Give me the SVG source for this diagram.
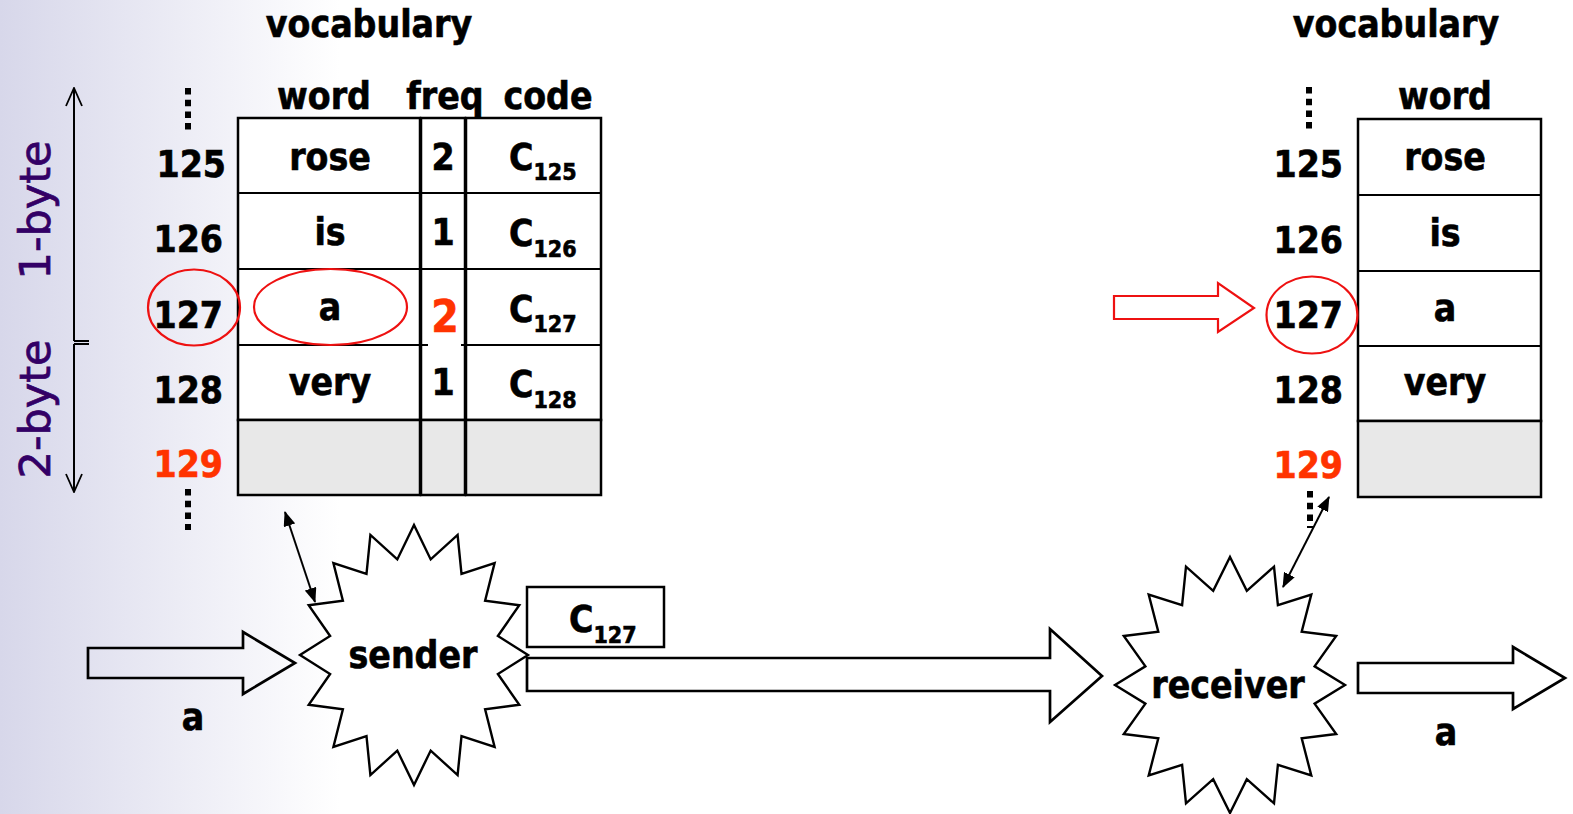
<svg xmlns="http://www.w3.org/2000/svg" width="1573" height="814" viewBox="0 0 1573 814">
<defs>
<linearGradient id="bg" x1="0" y1="0" x2="1" y2="0">
<stop offset="0" stop-color="#d7d7ea"/>
<stop offset="1" stop-color="#ffffff"/>
</linearGradient>
<marker id="ah" viewBox="0 0 15 12" refX="14" refY="6" markerWidth="15" markerHeight="12" markerUnits="userSpaceOnUse" orient="auto-start-reverse">
<path d="M0,0 L15,6 L0,12 z" fill="#000"/>
</marker>
<marker id="open" viewBox="0 0 20 18" refX="19" refY="9" markerWidth="20" markerHeight="18" markerUnits="userSpaceOnUse" orient="auto-start-reverse">
<path d="M1,1 L19,9 L1,17" fill="none" stroke="#000" stroke-width="1.8"/>
</marker>
</defs>
<style>
text{font-family:"DejaVu Sans Condensed","DejaVu Sans","Verdana",sans-serif;font-stretch:condensed;font-weight:bold;font-size:37px;fill:#000;stroke:#000;stroke-width:0.6}
.c{text-anchor:middle}
.e{text-anchor:end}
.red{fill:#ff3300;stroke:#ff3300}
.byte{font-family:"DejaVu Sans",sans-serif;font-stretch:normal;font-weight:normal;font-size:43px;fill:#330066;stroke:#330066;stroke-width:0.7;text-anchor:middle}
.sub{font-size:23px}
.cell{fill:#fff;stroke:#000;stroke-width:2.5}
.gray{fill:#e8e8e8;stroke:#000;stroke-width:2.5}
.dots{stroke:#000;stroke-width:6;stroke-dasharray:6.5 5.2;fill:none}
.ring{fill:none;stroke:#ee1111;stroke-width:2.2}
.blk{fill:#fff;stroke:#000;stroke-width:2.7;stroke-linejoin:miter}
.star{fill:#fff;stroke:#000;stroke-width:2.4;stroke-linejoin:miter}
.line{stroke:#000;stroke-width:2;fill:none}
</style>
<rect x="0" y="0" width="1573" height="814" fill="#fff"/>
<rect x="0" y="0" width="340" height="814" fill="url(#bg)"/>

<g id="byte-scale">
<line class="line" x1="74" y1="341" x2="74" y2="88" marker-end="url(#open)"/>
<line class="line" x1="74" y1="341" x2="89" y2="341"/>
<line class="line" x1="74" y1="344" x2="74" y2="492" marker-end="url(#open)"/>
<line class="line" x1="74" y1="344" x2="89" y2="344"/>
<text class="byte" transform="translate(50,210) rotate(-90)">1-byte</text>
<text class="byte" transform="translate(50,409) rotate(-90)">2-byte</text>
</g>

<g id="sender-vocabulary">
<text class="c" x="369" y="37">vocabulary</text>
<text class="c" x="324" y="109">word</text>
<text class="c" x="445" y="109">freq</text>
<text class="c" x="548" y="109">code</text>
<line class="dots" x1="188" y1="88" x2="188" y2="130"/>
<line class="dots" x1="188" y1="489" x2="188" y2="530"/>
<text class="e" x="226" y="177">125</text>
<text class="e" x="223" y="252">126</text>
<text class="e" x="223" y="328">127</text>
<text class="e" x="223" y="403">128</text>
<text class="e red" x="223" y="477">129</text>
<rect class="cell" x="238" y="118" width="182" height="302"/>
<rect class="cell" x="421" y="118" width="44" height="302"/>
<rect class="cell" x="466" y="118" width="135" height="302"/>
<line class="line" x1="238" y1="193" x2="601" y2="193" stroke-width="2.5"/>
<line class="line" x1="238" y1="269" x2="601" y2="269" stroke-width="2.5"/>
<line class="line" x1="238" y1="345" x2="601" y2="345" stroke-width="2.5"/>
<rect class="gray" x="238" y="420" width="182" height="75"/>
<rect class="gray" x="421" y="420" width="44" height="75"/>
<rect class="gray" x="466" y="420" width="135" height="75"/>
<rect x="428" y="290" width="33" height="57" fill="#fff"/>
<text class="c" x="330" y="170">rose</text>
<text class="c" x="330" y="245">is</text>
<text class="c" x="330" y="320">a</text>
<text class="c" x="330" y="395">very</text>
<text class="c" x="443" y="170">2</text>
<text class="c" x="443" y="245">1</text>
<text class="c red" x="445" y="332" style="font-size:44px">2</text>
<text class="c" x="443" y="395">1</text>
<text x="509" y="170">C<tspan class="sub" dy="10">125</tspan></text>
<text x="509" y="246">C<tspan class="sub" dy="11">126</tspan></text>
<text x="509" y="322">C<tspan class="sub" dy="10">127</tspan></text>
<text x="509" y="397">C<tspan class="sub" dy="11">128</tspan></text>
<ellipse class="ring" cx="194" cy="307.5" rx="46" ry="38"/>
<ellipse class="ring" cx="330.5" cy="307" rx="76.5" ry="38"/>
</g>

<g id="receiver-vocabulary">
<text class="c" x="1396" y="37">vocabulary</text>
<text class="c" x="1445" y="109">word</text>
<line class="dots" x1="1309" y1="87" x2="1309" y2="130"/>
<line class="dots" x1="1310" y1="491" x2="1310" y2="528"/>
<text class="e" x="1343" y="177">125</text>
<text class="e" x="1343" y="253">126</text>
<text class="e" x="1343" y="328">127</text>
<text class="e" x="1343" y="403">128</text>
<text class="e red" x="1343" y="478">129</text>
<rect class="cell" x="1358" y="119" width="183" height="302"/>
<line class="line" x1="1358" y1="195" x2="1541" y2="195" stroke-width="2.5"/>
<line class="line" x1="1358" y1="271" x2="1541" y2="271" stroke-width="2.5"/>
<line class="line" x1="1358" y1="346" x2="1541" y2="346" stroke-width="2.5"/>
<rect class="gray" x="1358" y="421" width="183" height="76"/>
<text class="c" x="1445" y="170">rose</text>
<text class="c" x="1445" y="246">is</text>
<text class="c" x="1445" y="321">a</text>
<text class="c" x="1445" y="395">very</text>
<ellipse class="ring" cx="1312" cy="315" rx="45.5" ry="38.5"/>
</g>

<g id="connectors">
<polygon class="blk" style="fill:none" points="88,648 243,648 243,632 295,663 243,694 243,678 88,678"/>
<polygon class="blk" points="527,658 1050,658 1050,629 1102,676 1050,722 1050,691 527,691"/>
<polygon class="blk" points="1358,663 1513,663 1513,647 1565,678 1513,709 1513,693 1358,693"/>
<polygon points="1114,296 1218,296 1218,283 1254,308 1218,332 1218,319 1114,319" fill="#fff" stroke="#ee1111" stroke-width="2.2"/>
<line class="line" x1="285" y1="512" x2="315" y2="602" marker-start="url(#ah)" marker-end="url(#ah)"/>
<line class="line" x1="1329" y1="497" x2="1283" y2="587" marker-start="url(#ah)" marker-end="url(#ah)"/>
</g>

<g id="input-label">
<text class="c" x="193" y="730">a</text>
</g>

<g id="sender">
<polygon class="star" points="414,525 430.7,559.4 457.6,534.9 461.5,573.9 494.6,563.1 485.1,600.8 519.3,605.2 497.9,636 528,655 497.9,674 519.3,704.8 485.1,709.2 494.6,746.9 461.5,736.1 457.6,775.1 430.7,750.6 414,785 397.3,750.6 370.4,775.1 366.5,736.1 333.4,746.9 342.9,709.2 308.7,704.8 330.1,674 300,655 330.1,636 308.7,605.2 342.9,600.8 333.4,563.1 366.5,573.9 370.4,534.9 397.3,559.4"/>
<text class="c" x="413" y="668">sender</text>
</g>

<g id="code-box">
<rect class="cell" x="527" y="587" width="137" height="60"/>
<text x="569" y="632">C<tspan class="sub" dy="11">127</tspan></text>
</g>

<g id="receiver">
<polygon class="star" points="1230,557 1246.8,590.8 1274,566.7 1277.9,605.2 1311.3,594.5 1301.7,631.7 1336.2,636 1314.6,666.3 1345,685 1314.6,703.7 1336.2,734 1301.7,738.3 1311.3,775.5 1277.9,764.8 1274,803.3 1246.8,779.2 1230,813 1213.2,779.2 1186,803.3 1182.1,764.8 1148.7,775.5 1158.3,738.3 1123.8,734 1145.4,703.7 1115,685 1145.4,666.3 1123.8,636 1158.3,631.7 1148.7,594.5 1182.1,605.2 1186,566.7 1213.2,590.8"/>
<text class="c" x="1228" y="698">receiver</text>
</g>

<g id="output-label">
<text class="c" x="1446" y="745">a</text>
</g>
</svg>
